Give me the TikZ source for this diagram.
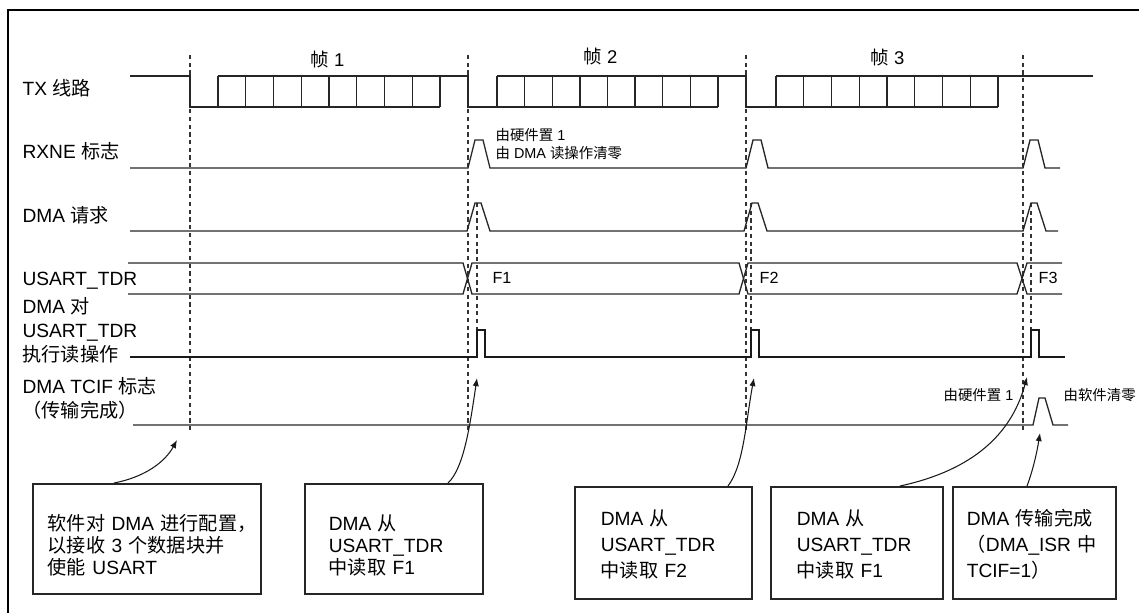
\documentclass[tikz,border=0pt]{standalone}
\usepackage{fontspec}
\setmainfont{Liberation Sans}
\newfontfamily\cjk{Noto Sans CJK SC}
\newcommand{\zh}[1]{{\cjk #1}}
\usetikzlibrary{arrows.meta, calc}

\begin{document}
\begin{tikzpicture}[>={Latex[length=4.6pt, width=3.6pt]}, line width=0.7pt,
  x=0.02cm, y=-0.02cm,
  sig/.style={draw=black!85, line width=0.75pt},
  rdpulse/.style={draw=black!90, line width=1.1pt},
  guide/.style={draw=black!80, line width=0.9pt, dash pattern=on 2.4pt off 2pt},
  link/.style={draw=black!90, line width=0.6pt},
  lbl/.style={anchor=base west, inner sep=0pt, align=left, font=\fontsize{10.9}{13.6}\selectfont},
  tag/.style={anchor=base west, inner sep=0pt, font=\fontsize{10.5}{12}\selectfont},
  dat/.style={anchor=base west, inner sep=0pt, font=\fontsize{9.2}{11}\selectfont},
  note/.style={anchor=base west, inner sep=0pt, align=left, font=\fontsize{8.2}{10.2}\selectfont},
  boxa/.style={draw=black!85, line width=0.9pt, anchor=north west, align=left, inner ysep=0pt,
    minimum height=2.2cm, text height=0.34cm, text depth=0.66cm, font=\fontsize{10.9}{12.5}\selectfont},
  boxb/.style={draw=black!85, line width=0.9pt, anchor=north west, align=left, inner ysep=0pt,
    minimum height=2.24cm, text height=0.34cm, text depth=1.02cm, font=\fontsize{10.9}{14.7}\selectfont}]
  \useasboundingbox (0,0) rectangle (1139,612);
  % marco
  \draw[line width=1.4pt] (8,640) -- (8,10) -- (1160,10);

  % etiquetas de las senales (base = ultima linea)
  \node[lbl] (lTX) at (22,95) {TX \zh{线路}};
  \node[lbl] (lRXNE) at (22,158) {RXNE \zh{标志}};
  \node[lbl] (lDMA) at (22,222) {DMA \zh{请求}};
  \node[lbl] (lTDR) at (22,285) {USART\_TDR};
  \node[lbl] (lRd) at (22,361) {DMA \zh{对}\\USART\_TDR\\\zh{执行读操作}};
  \node[lbl] (lTC) at (22,417) {DMA TCIF \zh{标志}\\\zh{（传输完成）}};

  % tramas
  \node[tag] (f1) at (310,66) {\zh{帧} 1};
  \node[tag] (f2) at (583,63) {\zh{帧} 2};
  \node[tag] (f3) at (870,64) {\zh{帧} 3};

  % lineas de referencia
  \foreach \g in {190,468,746,1023}
    \draw[guide] (\g,55) -- (\g,430);
  \foreach \g in {477,751,1031}
    \draw[guide] (\g,203) -- (\g,330);

  % TX
  \draw[sig] (130,76) -- (190,76) -- (190,107) -- (440,107);
  \draw[sig] (218,76) -- (468,76) -- (468,107) -- (718,107);
  \draw[sig] (497,76) -- (746,76) -- (746,107) -- (998,107);
  \draw[sig] (776,76) -- (1093,76);
  \foreach \s/\e in {218/440, 497/718, 776/998}
    \foreach \k in {0,...,8}
      \draw[sig] ({\s+\k*(\e-\s)/8},76) -- ++(0,31);

  % RXNE y peticion DMA
  \draw[sig] (130,168) foreach \p in {468,746,1023} { -- (\p,168) -- ++(7,-28) -- ++(8,0) -- ++(7,28) } -- (1060,168);
  \draw[sig] (130,231) foreach \p in {467,744,1023} { -- (\p,231) -- ++(8,-28) -- ++(6,0) -- ++(9,28) } -- (1058,231);
  \node[note] (nRx) at (495,158) {\zh{由硬件置} 1\\\zh{由} DMA \zh{读操作清零}};

  % USART_TDR
  \draw[sig] (128,263) -- (463,263) -- (472,294) -- (739,294) -- (748,263) -- (1017,263) -- (1027,294) -- (1062,294);
  \draw[sig] (128,294) -- (463,294) -- (472,263) -- (739,263) -- (748,294) -- (1017,294) -- (1027,263) -- (1062,263);
  \node[dat] (d1) at (492,283) {F1};
  \node[dat] (d2) at (759,283) {F2};
  \node[dat] (d3) at (1038,283) {F3};

  % lectura DMA y TCIF
  \draw[rdpulse] (130,357) foreach \p in {477,751,1031} { -- (\p,357) -- ++(0,-27) -- ++(8,0) -- ++(0,27) } -- (1065,357);
  \draw[sig] (133,425) -- (1033,425) -- (1039,398) -- (1045,398) -- (1053,425) -- (1068,425);
  \node[note] (nHw) at (943,400) {\zh{由硬件置} 1};
  \node[note] (nSw) at (1063,400) {\zh{由软件清零}};

  % cuadros de texto
  \node[boxa, text width=3.96cm, inner xsep=0.3cm] (cfg) at (32,483)
    {\mbox{\zh{软件对} DMA \zh{进行配置，}}\\\zh{以接收} 3 \zh{个数据块并}\\\zh{使能} USART};
  \node[boxa, text width=2.6cm, inner xsep=0.48cm] (rd1) at (304,483)
    {DMA \zh{从}\\USART\_TDR\\\zh{中读取} F1};
  \node[boxb, text width=2.5cm, inner xsep=0.52cm] (rd2) at (574,486)
    {DMA \zh{从}\\USART\_TDR\\\zh{中读取} F2};
  \node[boxb, text width=2.4cm, inner xsep=0.52cm] (rd3) at (770,486)
    {DMA \zh{从}\\USART\_TDR\\\zh{中读取} F1};
  \node[boxb, text width=2.7cm, inner xsep=0.28cm] (done) at (952,486)
    {DMA \zh{传输完成}\\\zh{（}DMA\_ISR \zh{中}\\TCIF=1\zh{）}};

  % flechas
  \coordinate (t0) at (177,440);
  \coordinate (t1) at (477,378);
  \coordinate (t2) at (754,378);
  \coordinate (t3) at (1027,377);
  \coordinate (t4) at (1040,433);
  \draw[link, ->] ($(cfg.north west)+(82,0)$) .. controls (145,477) and (165,462) .. (t0);
  \draw[link, ->] ($(rd1.north west)+(144,0)$) .. controls (464,468) and (470,425) .. (t1);
  \draw[link, ->] ($(rd2.north west)+(154,0)$) .. controls (744,465) and (746,420) .. (t2);
  \draw[link, ->] ($(rd3.north west)+(130,0)$) .. controls (965,472) and (1010,440) .. (t3);
  \draw[link, ->] ($(done.north west)+(75,0)$) .. controls (1033,470) and (1037,452) .. (t4);
\end{tikzpicture}
\end{document}
